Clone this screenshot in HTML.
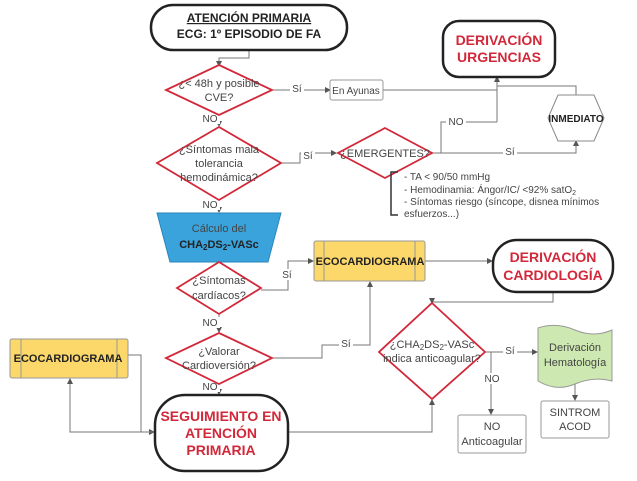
<!DOCTYPE html>
<html><head><meta charset="utf-8"><style>
body{margin:0;background:#fff}
svg{display:block;font-family:"Liberation Sans",sans-serif;font-size:11px;text-anchor:middle}
text{fill:#444}
.b{font-weight:bold;fill:#222}
.r{font-weight:bold;fill:#d2283a}
.l{stroke:#777;stroke-width:1;fill:none}
</style></head><body>
<svg width="637" height="481" viewBox="0 0 637 481">
<defs><marker id="a" markerWidth="6" markerHeight="6" refX="5" refY="3" orient="auto"><path d="M0,0L6,3L0,6z" fill="#555"/></marker></defs>
<path class="l" d="M249,50V58H219V66" marker-end="url(#a)"/>
<path class="l" d="M272,90H284V90H330" marker-end="url(#a)"/>
<path class="l" d="M383,90H497" />
<path class="l" d="M576,95V86H497" />
<path class="l" d="M497,122V77" marker-end="url(#a)"/>
<path class="l" d="M219,116V126" marker-end="url(#a)"/>
<path class="l" d="M281,163H300V153H336" marker-end="url(#a)"/>
<path class="l" d="M432,153H441V122H497" />
<path class="l" d="M432,153H576V141" marker-end="url(#a)"/>
<path class="l" d="M219,200V212" marker-end="url(#a)"/>
<path class="l" d="M261,290H288V261H313" marker-end="url(#a)"/>
<path class="l" d="M425,261H492" marker-end="url(#a)"/>
<path class="l" d="M219,314V332" marker-end="url(#a)"/>
<path class="l" d="M272,358H322V345H370V282" marker-end="url(#a)"/>
<path class="l" d="M553,292V302H432V303" marker-end="url(#a)"/>
<path class="l" d="M219,384V394" marker-end="url(#a)"/>
<path class="l" d="M288,432H432V400" marker-end="url(#a)"/>
<path class="l" d="M128,355H141V432H154" marker-end="url(#a)"/>
<path class="l" d="M155,432H70V379" marker-end="url(#a)"/>
<path class="l" d="M485,352H537" marker-end="url(#a)"/>
<path class="l" d="M491,352V414" marker-end="url(#a)"/>
<path class="l" d="M575,378V400" marker-end="url(#a)"/>
<g font-size="10">
<rect x="290" y="83" width="14" height="11" fill="#fff"/><text x="297" y="92">Sí</text>
<rect x="200" y="113" width="20" height="11" fill="#fff"/><text x="210" y="122">NO</text>
<rect x="301" y="150" width="14" height="11" fill="#fff"/><text x="308" y="159">Sí</text>
<rect x="446" y="116" width="20" height="11" fill="#fff"/><text x="456" y="125">NO</text>
<rect x="503" y="146" width="14" height="11" fill="#fff"/><text x="510" y="155">Sí</text>
<rect x="200" y="199" width="20" height="11" fill="#fff"/><text x="210" y="208">NO</text>
<rect x="281" y="269" width="14" height="11" fill="#fff"/><text x="287" y="278">Sí</text>
<rect x="200" y="317" width="20" height="11" fill="#fff"/><text x="210" y="326">NO</text>
<rect x="339" y="338" width="14" height="11" fill="#fff"/><text x="346" y="347">Sí</text>
<rect x="200" y="381" width="20" height="11" fill="#fff"/><text x="210" y="390">NO</text>
<rect x="503" y="345" width="14" height="11" fill="#fff"/><text x="510" y="354">Sí</text>
<rect x="482" y="373" width="20" height="11" fill="#fff"/><text x="492" y="382">NO</text>
</g>
<rect x="151" y="5" width="196" height="45" rx="22" fill="#fff" stroke="#222" stroke-width="2.5"/>
<text class="b" x="249" y="22" font-size="12" text-decoration="underline">ATENCIÓN PRIMARIA</text>
<text class="b" x="249" y="38" font-size="12">ECG: 1º EPISODIO DE FA</text>
<rect x="443" y="21" width="112" height="56" rx="16" fill="#fff" stroke="#222" stroke-width="2.5"/>
<text class="r" x="499" y="45" font-size="14">DERIVACIÓN</text>
<text class="r" x="499" y="62" font-size="14">URGENCIAS</text>
<polygon points="219,65 272,90 219,115 166,90" fill="#fff" stroke="#d2283a" stroke-width="1.8"/>
<text x="219" y="87">¿&lt; 48h y posible</text><text x="219" y="101">CVE?</text>
<rect x="330" y="80" width="53" height="20" rx="2" fill="#fff" stroke="#999"/>
<text x="356" y="94" font-size="10">En Ayunas</text>
<polygon points="558,95 594,95 604,118 594,141 558,141 548,118" fill="#fff" stroke="#888"/>
<text class="b" x="576" y="122" font-size="10">INMEDIATO</text>
<polygon points="219,127 281,163 219,200 157,163" fill="#fff" stroke="#d2283a" stroke-width="1.8"/>
<text x="219" y="153">¿Síntomas mala</text><text x="219" y="167">tolerancia</text><text x="219" y="181">hemodinámica?</text>
<polygon points="385,128 432,153 385,178 338,153" fill="#fff" stroke="#d2283a" stroke-width="1.8"/>
<text x="385" y="157">¿EMERGENTES?</text>
<path d="M398,172H391V215H398" fill="none" stroke="#333" stroke-width="1.5"/>
<g font-size="10" text-anchor="start"><text x="404" y="180">- TA &lt; 90/50 mmHg</text>
<text x="404" y="193">- Hemodinamia: Ángor/IC/ &lt;92% satO<tspan font-size="7" dy="2">2</tspan></text>
<text x="404" y="205">- Síntomas riesgo (síncope, disnea mínimos</text>
<text x="404" y="217">esfuerzos...)</text></g>
<polygon points="157,213 281,213 268,262 170,262" fill="#3ba3dc" stroke="#2a86bb"/>
<text x="219" y="232">Cálculo del</text>
<text class="b" x="219" y="248">CHA<tspan font-size="8" dy="2">2</tspan><tspan dy="-2">DS</tspan><tspan font-size="8" dy="2">2</tspan><tspan dy="-2">-VASc</tspan></text>
<polygon points="219,262 261,288 219,314 177,288" fill="#fff" stroke="#d2283a" stroke-width="1.8"/>
<text x="219" y="284">¿Síntomas</text><text x="219" y="299">cardíacos?</text>
<rect x="314" y="241" width="111" height="40" rx="2" fill="#fcd86a" stroke="#999"/>
<path d="M324,241V281M415,241V281" stroke="#999"/>
<text class="b" x="370" y="265" font-size="11">ECOCARDIOGRAMA</text>
<rect x="493" y="240" width="120" height="52" rx="24" fill="#fff" stroke="#222" stroke-width="2.5"/>
<text class="r" x="553" y="262" font-size="14">DERIVACIÓN</text>
<text class="r" x="553" y="280" font-size="14">CARDIOLOGÍA</text>
<polygon points="219,333 272,358 219,384 166,358" fill="#fff" stroke="#d2283a" stroke-width="1.8"/>
<text x="219" y="355">¿Valorar</text><text x="219" y="369">Cardioversión?</text>
<rect x="10" y="339" width="118" height="39" rx="2" fill="#fcd86a" stroke="#999"/>
<path d="M21,339V378M117,339V378" stroke="#999"/>
<text class="b" x="68" y="362" font-size="11">ECOCARDIOGRAMA</text>
<polygon points="432,303 485,352 432,399 379,352" fill="#fff" stroke="#d2283a" stroke-width="1.8"/>
<text x="432" y="348">¿CHA<tspan font-size="8" dy="2">2</tspan><tspan dy="-2">DS</tspan><tspan font-size="8" dy="2">2</tspan><tspan dy="-2">-VASc</tspan></text>
<text x="432" y="362">indica anticoagular?</text>
<rect x="155" y="395" width="133" height="76" rx="30" fill="#fff" stroke="#222" stroke-width="2.5"/>
<text class="r" x="221" y="421" font-size="14">SEGUIMIENTO EN</text>
<text class="r" x="221" y="438" font-size="14">ATENCIÓN</text>
<text class="r" x="221" y="455" font-size="14">PRIMARIA</text>
<path d="M538,328Q556,322 575,330Q594,338 612,330V381Q594,376 575,384Q556,392 538,381Z" fill="#cde8b0" stroke="#999"/>
<text x="575" y="351">Derivación</text><text x="575" y="366">Hematología</text>
<rect x="458" y="415" width="68" height="38" rx="2" fill="#fff" stroke="#999"/>
<text x="492" y="430">NO</text><text x="492" y="445">Anticoagular</text>
<rect x="541" y="401" width="68" height="37" rx="2" fill="#fff" stroke="#999"/>
<text x="575" y="416">SINTROM</text><text x="575" y="430">ACOD</text>
</svg>
</body></html>
